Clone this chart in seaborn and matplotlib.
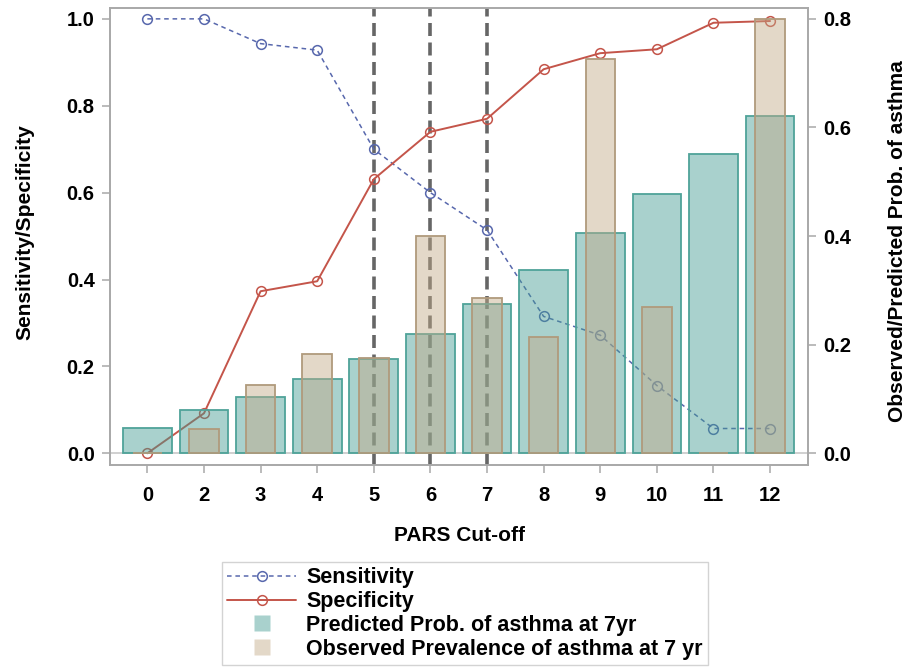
import matplotlib
matplotlib.use("Agg")
import matplotlib.pyplot as plt
from matplotlib.lines import Line2D
from matplotlib.colors import to_rgba
import seaborn as sns

# values
cutoffs = ["0", "2", "3", "4", "5", "6", "7", "8", "9", "10", "11", "12"]
sensitivity = [1.0, 1.0, 0.943, 0.928, 0.70, 0.60, 0.514, 0.315, 0.272, 0.156, 0.057, 0.057]
specificity = [0.0, 0.092, 0.373, 0.396, 0.631, 0.740, 0.770, 0.884, 0.921, 0.930, 0.991, 0.995]
predicted = [0.047, 0.080, 0.104, 0.136, 0.173, 0.219, 0.275, 0.337, 0.406, 0.478, 0.551, 0.622]
observed = [0.0, 0.044, 0.126, 0.182, 0.176, 0.400, 0.286, 0.214, 0.726, 0.270, 0.0, 0.800]
marked_cutoffs = ["5", "6", "7"]

sns.set_style("white")
plt.rcParams["font.family"] = ["Liberation Sans", "DejaVu Sans"]
plt.rcParams["font.weight"] = "bold"
plt.rcParams["text.color"] = "black"
plt.rcParams["axes.labelcolor"] = "black"
plt.rcParams["xtick.labelcolor"] = "black"
plt.rcParams["ytick.labelcolor"] = "black"

SENS_COL = "#5868ad"
SPEC_COL = "#c4554a"
PRED_COL = "#419b91"
PRED_EDGE = "#4fa399"
OBS_COL = "#c3a987"
OBS_EDGE = "#b09a7c"
FRAME = "#a8a8a8"

fig = plt.figure(figsize=(9.14, 6.71), dpi=100)
ax = fig.add_axes([110 / 914, 1 - 465 / 671, (808 - 110) / 914, (465 - 8) / 671])

# reference line at zero and cut-off markers
ax.axhline(0, color="#c8c8c8", linewidth=1.2, zorder=0)
for c in marked_cutoffs:
    ax.axvline(cutoffs.index(c), color="#555555", linewidth=2.6,
               linestyle=(0, (3.6, 1.8)), alpha=0.9, zorder=1)

# sensitivity / specificity lines
sns.pointplot(x=cutoffs, y=sensitivity, ax=ax, color=SENS_COL, linestyles="--",
              markers="o", errorbar=None, linewidth=1.1, markersize=7, markeredgewidth=1.1)
sns.pointplot(x=cutoffs, y=specificity, ax=ax, color=SPEC_COL, linestyles="-",
              markers="o", errorbar=None, linewidth=1.4, markersize=7, markeredgewidth=1.1)
for ln in ax.lines:
    if ln.get_marker() == "o":
        ln.set_markerfacecolor("none")
        if ln.get_linestyle() == "--":
            ln.set_dashes([3, 2.5])

# bars on the right axis
ax2 = ax.twinx()
sns.barplot(x=cutoffs, y=predicted, ax=ax2, color=PRED_COL, saturation=1,
            width=0.86, edgecolor=PRED_EDGE, linewidth=1.3)
n_pred = len(ax2.patches)
sns.barplot(x=cutoffs, y=observed, ax=ax2, color=OBS_COL, saturation=1,
            width=0.52, edgecolor=OBS_EDGE, linewidth=1.3)
for i, p in enumerate(ax2.patches):
    p.set_facecolor(to_rgba(PRED_COL if i < n_pred else OBS_COL, 0.45))

ax.set_xlim(-0.66, 11.67)
ax.set_ylim(-0.027, 1.025)
ax2.set_ylim(-0.027 * 0.8, 1.025 * 0.8)
ax.set_yticks([0, 0.2, 0.4, 0.6, 0.8, 1.0])
ax.set_yticklabels(["0.0", "0.2", "0.4", "0.6", "0.8", "1.0"])
ax2.set_yticks([0, 0.2, 0.4, 0.6, 0.8])
ax2.set_yticklabels(["0.0", "0.2", "0.4", "0.6", "0.8"])

for a in (ax, ax2):
    for s in a.spines.values():
        s.set_color(FRAME)
        s.set_linewidth(1.2)
    a.tick_params(length=6, width=1.1, color=FRAME, labelsize=14.5, pad=5, direction="out")
ax.tick_params(axis="both", left=True, bottom=True)
ax.tick_params(axis="x", pad=9)
ax2.tick_params(axis="y", right=True)

ax.set_xlabel("PARS Cut-off", fontsize=15, fontweight="bold", labelpad=15)
ax.set_ylabel("Sensitivity/Specificity", fontsize=15, fontweight="bold")
ax2.set_ylabel("Observed/Predicted Prob. of asthma", fontsize=15, fontweight="bold")
ax.yaxis.set_label_coords(-0.108, 0.51)
ax2.yaxis.set_label_coords(1.115, 0.49)
ax2.set_xlabel("")

handles = [
    Line2D([], [], color=SENS_COL, linestyle=(0, (3, 2.5)), linewidth=1.1, marker="o",
           markerfacecolor="none", markersize=7, markeredgewidth=1.1),
    Line2D([], [], color=SPEC_COL, linestyle="-", linewidth=1.4, marker="o",
           markerfacecolor="none", markersize=7, markeredgewidth=1.1),
    Line2D([], [], linestyle="none", marker="s", markersize=11,
           markerfacecolor=to_rgba(PRED_COL, 0.45), markeredgecolor="none"),
    Line2D([], [], linestyle="none", marker="s", markersize=11,
           markerfacecolor=to_rgba(OBS_COL, 0.45), markeredgecolor="none"),
]
labels = ["Sensitivity", "Specificity", "Predicted Prob. of asthma at 7yr",
          "Observed Prevalence of asthma at 7 yr"]
leg = fig.legend(handles, labels, loc="upper left", bbox_to_anchor=(222 / 914, 1 - 562 / 671),
                 frameon=True, fancybox=False, edgecolor="#c8c8c8", fontsize=15.5,
                 handlelength=3.2, handletextpad=0.45, labelspacing=0.13, borderpad=0.25,
                 borderaxespad=0, numpoints=1)
leg.get_frame().set_linewidth(1.0)

plt.savefig("out.png", dpi=100)
